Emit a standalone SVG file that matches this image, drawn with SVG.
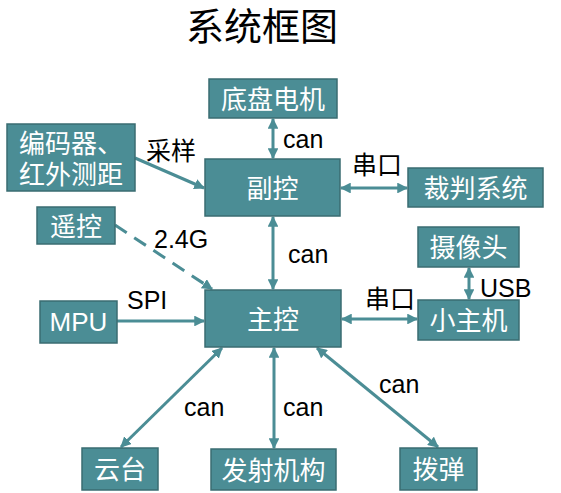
<svg xmlns="http://www.w3.org/2000/svg" width="561" height="493" viewBox="0 0 561 493">
<style>
.box{fill:#4B8D95;stroke:#3A6C72;stroke-width:1.5}
.bt{fill:#ffffff;font-family:"Liberation Sans","Noto Sans CJK SC",sans-serif;font-size:26px;text-anchor:middle}
.lbl{fill:#000000;font-family:"Liberation Sans","Noto Sans CJK SC",sans-serif;font-size:25px}
.ln{stroke:#4B8D95;stroke-width:3;fill:none}
.title{fill:#000000;font-family:"Liberation Sans","Noto Sans CJK SC",sans-serif;font-size:38px;text-anchor:middle}
</style>
<defs>
<marker id="ae" viewBox="0 0 10 10" refX="9" refY="5" markerWidth="3.6" markerHeight="3.6" orient="auto" markerUnits="strokeWidth">
<path d="M0,0 L10,5 L0,10 z" fill="#4B8D95"/>
</marker>
<marker id="as" viewBox="0 0 10 10" refX="1" refY="5" markerWidth="3.6" markerHeight="3.6" orient="auto" markerUnits="strokeWidth">
<path d="M10,0 L0,5 L10,10 z" fill="#4B8D95"/>
</marker>
</defs>
<rect width="561" height="493" fill="#ffffff"/>
<text class="title" x="262" y="40">系统框图</text>
<g id="connectors">
<line class="ln" x1="273" y1="119" x2="273" y2="158" marker-start="url(#as)" marker-end="url(#ae)"/>
<line class="ln" x1="135" y1="158" x2="204" y2="188" marker-end="url(#ae)"/>
<line class="ln" x1="341" y1="188" x2="407" y2="188" marker-start="url(#as)" marker-end="url(#ae)"/>
<line class="ln" x1="273" y1="217" x2="273" y2="289" marker-start="url(#as)" marker-end="url(#ae)"/>
<line class="ln" x1="115" y1="225" x2="212" y2="289" stroke-dasharray="14,9" marker-end="url(#ae)"/>
<line class="ln" x1="117" y1="321" x2="204" y2="321" marker-end="url(#ae)"/>
<line class="ln" x1="342" y1="319" x2="417" y2="319" marker-start="url(#as)" marker-end="url(#ae)"/>
<line class="ln" x1="469" y1="268" x2="469" y2="299" marker-start="url(#as)" marker-end="url(#ae)"/>
<line class="ln" x1="222" y1="348" x2="121" y2="447" marker-start="url(#as)" marker-end="url(#ae)"/>
<line class="ln" x1="274" y1="348" x2="274" y2="448" marker-start="url(#as)" marker-end="url(#ae)"/>
<line class="ln" x1="317" y1="348" x2="438" y2="447" marker-start="url(#as)" marker-end="url(#ae)"/>
</g>
<g id="labels">
<text class="lbl" x="283" y="148">can</text>
<text class="lbl" x="146" y="160">采样</text>
<text class="lbl" x="352" y="174">串口</text>
<text class="lbl" x="154" y="248">2.4G</text>
<text class="lbl" x="288" y="263">can</text>
<text class="lbl" x="480" y="297">USB</text>
<text class="lbl" x="127" y="309">SPI</text>
<text class="lbl" x="365" y="308">串口</text>
<text class="lbl" x="184" y="416">can</text>
<text class="lbl" x="283" y="416">can</text>
<text class="lbl" x="379" y="393">can</text>
</g>
<g id="n-dipan"><rect class="box" x="209" y="79" width="128" height="39"/><text class="bt" x="273" y="108.5">底盘电机</text></g>
<g id="n-bianmaqi"><rect class="box" x="7" y="124" width="128" height="67"/><text class="bt" x="71" y="153">编码器、</text><text class="bt" x="71" y="183.5">红外测距</text></g>
<g id="n-fukong"><rect class="box" x="205" y="159" width="135" height="57"/><text class="bt" x="272.5" y="197.5">副控</text></g>
<g id="n-caipan"><rect class="box" x="408" y="168" width="135" height="39"/><text class="bt" x="475.5" y="197.5">裁判系统</text></g>
<g id="n-yaokong"><rect class="box" x="37" y="207" width="78" height="37"/><text class="bt" x="76" y="235.5">遥控</text></g>
<g id="n-shexiangtou"><rect class="box" x="418" y="227" width="101" height="40"/><text class="bt" x="468.5" y="257">摄像头</text></g>
<g id="n-mpu"><rect class="box" x="40" y="301" width="77" height="42"/><text class="bt" x="78.5" y="331">MPU</text></g>
<g id="n-zhukong"><rect class="box" x="205" y="290" width="136" height="57"/><text class="bt" x="273" y="328.5">主控</text></g>
<g id="n-xiaozhuji"><rect class="box" x="418" y="300" width="101" height="40"/><text class="bt" x="468.5" y="330">小主机</text></g>
<g id="n-yuntai"><rect class="box" x="82" y="448" width="76" height="42"/><text class="bt" x="120" y="479">云台</text></g>
<g id="n-fashe"><rect class="box" x="211" y="449" width="125" height="41"/><text class="bt" x="273.5" y="479.5">发射机构</text></g>
<g id="n-bodan"><rect class="box" x="400" y="448" width="77" height="42"/><text class="bt" x="438.5" y="479">拨弹</text></g>
</svg>
